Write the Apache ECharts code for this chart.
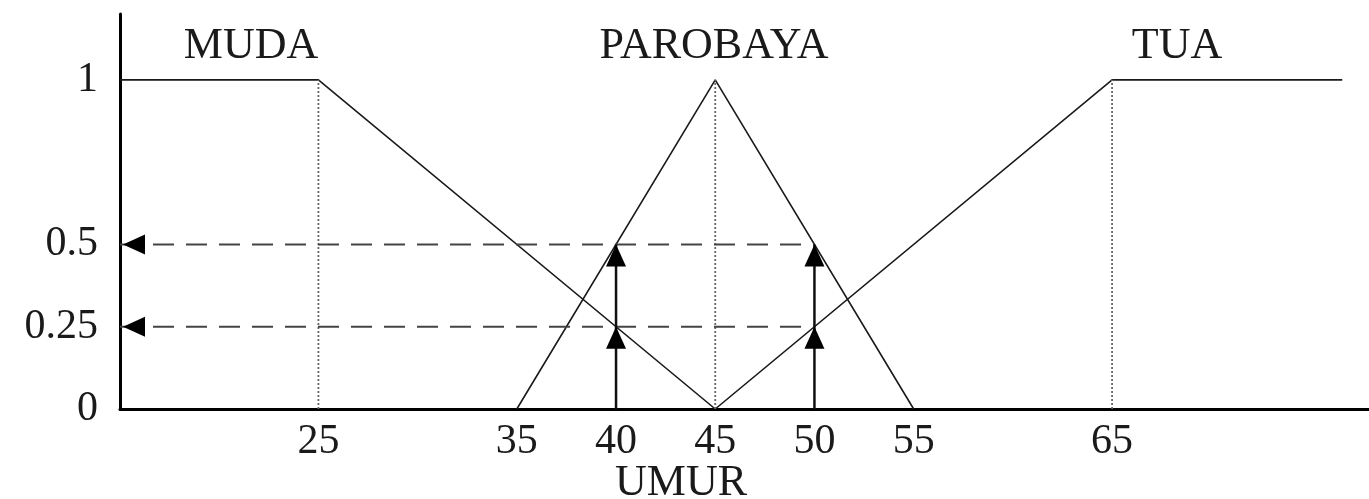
<!DOCTYPE html>
<html>
<head>
<meta charset="utf-8">
<script src="https://cdn.jsdelivr.net/npm/echarts@6/dist/echarts.min.js"></script>
<style>html,body{margin:0;padding:0;background:#fff;}#c{width:1369px;height:499px;}</style>
</head>
<body>
<div id="c"></div>
<script>
// Membership functions (UMUR -> degree)
const muda = [[15, 1], [25, 1], [45, 0]];
const parobaya = [[35, 0], [45, 1], [55, 0]];
const tua = [[45, 0], [65, 1], [76.6, 1]];
// Dotted guide lines at the corner points
const guideXs = [25, 45, 65];
// Input ages and resulting degrees
const inputAges = [40, 50];
const degrees = [0.5, 0.25];
// Tick labels
const xTicks = [25, 35, 40, 45, 50, 55, 65];
const yTicks = [0, 0.25, 0.5, 1];
const setNames = ['MUDA', 'PAROBAYA', 'TUA'];
const axisName = 'UMUR';

const X_MIN = 15, X_MAX = 78, Y_MAX = 1.2;
const FONT = "'Liberation Serif', 'DejaVu Serif', serif";
const series = [];

function lineSeries(data, style) {
  series.push({
    type: 'line', data: data, symbol: 'none', silent: true,
    lineStyle: style, z: 3, animation: false
  });
}

[muda, parobaya, tua].forEach(d => lineSeries(d, { color: '#1a1a1a', width: 1.6 }));
guideXs.forEach(x => lineSeries([[x, 0], [x, 1]], { color: '#666', width: 1.8, type: [2, 2] }));
degrees.forEach(v => lineSeries([[X_MIN, v], [Math.max(...inputAges), v]], { color: '#444', width: 2, type: [21, 12] }));
inputAges.forEach(a => lineSeries([[a, 0], [a, Math.max(...degrees)]], { color: '#111', width: 2.5 }));

const upHeads = [];
inputAges.forEach(a => degrees.forEach(v => upHeads.push([a, v])));
const leftHeads = degrees.map(v => [X_MIN, v]);

series.push({
  type: 'custom', data: upHeads, z: 5, animation: false, silent: true,
  renderItem: function (params, api) {
    const p = api.coord([api.value(0), api.value(1)]);
    return { type: 'polygon', shape: { points: [[p[0], p[1]], [p[0] - 10, p[1] + 22], [p[0] + 10, p[1] + 22]] }, style: { fill: '#000' } };
  }
});
series.push({
  type: 'custom', data: leftHeads, z: 5, animation: false, silent: true,
  renderItem: function (params, api) {
    const p = api.coord([api.value(0), api.value(1)]);
    return { type: 'polygon', shape: { points: [[p[0] + 3, p[1]], [p[0] + 25, p[1] - 10], [p[0] + 25, p[1] + 10]] }, style: { fill: '#000' } };
  }
});

const chart = echarts.init(document.getElementById('c'));
chart.setOption({
  backgroundColor: '#fff',
  animation: false,
  grid: { left: 120, top: 14, width: 1250, height: 395, containLabel: false, outerBoundsMode: 'none' },
  xAxis: {
    type: 'value', min: X_MIN, max: X_MAX,
    axisLine: { show: true, onZero: false, lineStyle: { color: '#000', width: 3 } },
    axisTick: { show: false },
    splitLine: { show: false },
    axisLabel: { customValues: xTicks, margin: 12, color: '#1a1a1a', fontFamily: FONT, fontSize: 42, hideOverlap: false }
  },
  yAxis: {
    type: 'value', min: 0, max: Y_MAX,
    axisLine: { show: true, lineStyle: { color: '#000', width: 3 } },
    axisTick: { show: false },
    splitLine: { show: false },
    axisLabel: { customValues: yTicks, margin: 22, color: '#1a1a1a', fontFamily: FONT, fontSize: 42 }
  },
  graphic: {
    elements: [
      { type: 'text', x: 251, y: 46, style: { text: setNames[0], fill: '#1a1a1a', font: '44px ' + FONT, align: 'center', verticalAlign: 'middle' } },
      { type: 'text', x: 714, y: 46, style: { text: setNames[1], fill: '#1a1a1a', font: '44px ' + FONT, align: 'center', verticalAlign: 'middle' } },
      { type: 'text', x: 1177, y: 46, style: { text: setNames[2], fill: '#1a1a1a', font: '44px ' + FONT, align: 'center', verticalAlign: 'middle' } },
      { type: 'text', x: 681, y: 483, style: { text: axisName, fill: '#1a1a1a', font: '44px ' + FONT, align: 'center', verticalAlign: 'middle' } }
    ]
  },
  series: series
});
</script>
</body>
</html>
